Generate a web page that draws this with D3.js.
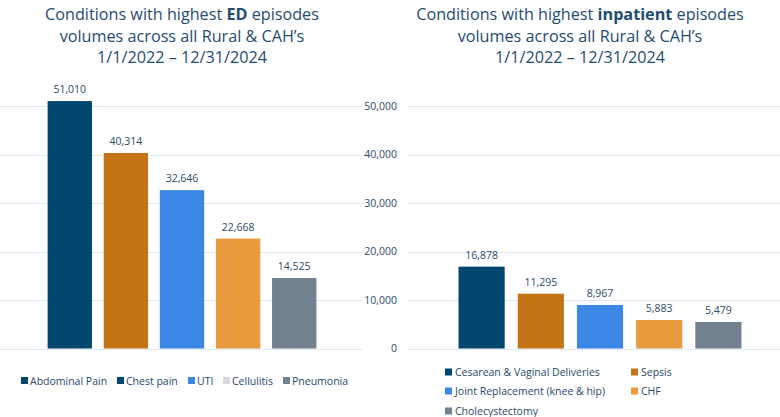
<!DOCTYPE html>
<html>
<head>
<meta charset="utf-8">
<script src="https://cdn.jsdelivr.net/npm/d3@7"></script>
<style>
  body { margin: 0; background: #fff; }
  svg { font-family: "Open Sans", sans-serif; display: block; }
  .title { fill: #1f4c72; font-size: 16.2px; }
  .val { fill: #2e4b66; font-size: 10.5px; }
  .tick text { fill: #2e4b66; font-size: 10.5px; }
  .legend text { fill: #1f4a6e; font-size: 10.5px; }
</style>
</head>
<body>
<div id="chart"></div>
<script>
var edConditions = ["Abdominal Pain", "Chest pain", "UTI", "Cellulitis", "Pneumonia"];
var edValues = [51010, 40314, 32646, 22668, 14525];
var edLegendColors = ["#00476f", "#00476f", "#3a87e6", "#d9d9d9", "#738090"];

var ipConditions = ["Cesarean & Vaginal Deliveries", "Sepsis", "Joint Replacement (knee & hip)", "CHF", "Cholecystectomy"];
var ipValues = [16878, 11295, 8967, 5883, 5479];

var barColors = ["#00476f", "#c47415", "#3a87e6", "#e89a3c", "#738090"];
var yTicks = [0, 10000, 20000, 30000, 40000, 50000];

var svgWidth = 780;
var svgHeight = 417;

var svg = d3.select("#chart")
  .append("svg")
  .attr("width", svgWidth)
  .attr("height", svgHeight);

var y = d3.scaleLinear()
  .domain([0, 50000])
  .range([348.5, 106]);

var fmt = d3.format(",");

function addTitle(cx, boldWord) {
  var t = svg.append("text")
    .attr("class", "title")
    .attr("text-anchor", "middle");
  var l1 = t.append("tspan").attr("x", cx).attr("y", 20);
  l1.append("tspan").text("Conditions with highest ");
  l1.append("tspan").attr("font-weight", 700).text(boldWord);
  l1.append("tspan").text(" episodes");
  t.append("tspan").attr("x", cx).attr("y", 42).text("volumes across all Rural & CAH\u2019s");
  t.append("tspan").attr("x", cx).attr("y", 63).text("1/1/2022 \u2013 12/31/2024");
}

function gridlines(x0, x1) {
  svg.append("g")
    .selectAll("line")
    .data(yTicks)
    .enter()
    .append("line")
    .attr("x1", x0)
    .attr("x2", x1)
    .attr("y1", d => Math.round(y(d)) + 0.5)
    .attr("y2", d => Math.round(y(d)) + 0.5)
    .attr("stroke", "#dde9f4")
    .attr("stroke-width", 1);
}

function bars(names, values, range, pIn, pOut) {
  var x = d3.scaleBand()
    .domain(names)
    .range(range)
    .paddingInner(pIn)
    .paddingOuter(pOut);

  var g = svg.append("g");
  g.selectAll("rect")
    .data(values)
    .enter()
    .append("rect")
    .attr("x", (d, i) => x(names[i]))
    .attr("y", d => y(d))
    .attr("width", x.bandwidth())
    .attr("height", d => y(0) - y(d))
    .attr("fill", (d, i) => barColors[i]);

  g.selectAll("text")
    .data(values)
    .enter()
    .append("text")
    .attr("class", "val")
    .attr("text-anchor", "middle")
    .attr("x", (d, i) => x(names[i]) + x.bandwidth() / 2)
    .attr("y", d => y(d) - 8)
    .text(d => fmt(d));
}

// left chart: ED
addTitle(182, "ED");
gridlines(0, 362);
bars(edConditions, edValues, [42, 322], 0.21, 0.1);

// right chart: inpatient
addTitle(580, "inpatient");
gridlines(408, 780);

svg.append("g")
  .attr("transform", "translate(397,0)")
  .call(d3.axisLeft(y).tickValues(yTicks).tickSize(0).tickPadding(0).tickFormat(fmt))
  .call(g => g.select(".domain").remove())
  .selectAll("text")
  .attr("font-family", "Open Sans, sans-serif");

bars(ipConditions, ipValues, [452, 748], 0.22, 0.11);

// legend left
var edLegendX = [21, 117, 188, 223, 283];
var lg = svg.append("g").attr("class", "legend");
edConditions.forEach(function(name, i) {
  lg.append("rect")
    .attr("x", edLegendX[i])
    .attr("y", 377)
    .attr("width", 7)
    .attr("height", 7)
    .attr("fill", edLegendColors[i]);
  lg.append("text")
    .attr("x", edLegendX[i] + 9)
    .attr("y", 384.5)
    .text(name);
});

// legend right
var ipLegendX = [445, 631];
var ipLegendY = [372, 391, 411];
var rg = svg.append("g").attr("class", "legend");
ipConditions.forEach(function(name, i) {
  var lx = ipLegendX[i % 2];
  var ly = ipLegendY[Math.floor(i / 2)];
  rg.append("rect")
    .attr("x", lx)
    .attr("y", ly - 3.5)
    .attr("width", 7)
    .attr("height", 7)
    .attr("fill", barColors[i]);
  rg.append("text")
    .attr("x", lx + 10)
    .attr("y", ly + 4)
    .text(name);
});
</script>
</body>
</html>
